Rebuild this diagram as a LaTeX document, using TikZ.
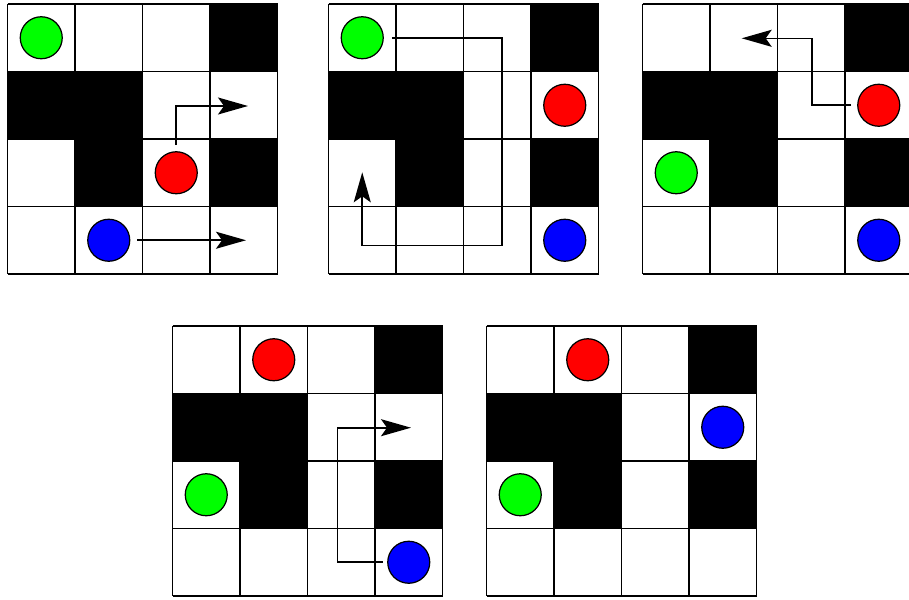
\documentclass[tikz,border=0pt]{standalone}
\usepackage{tikz}
\usetikzlibrary{arrows.meta}

\begin{document}
\begin{tikzpicture}[
    x=0.02cm, y=-0.02cm,
    cellline/.style={line width=1pt,black},
    wall/.style={fill=black},
    token/.style={circle,draw,line width=0.7pt,minimum size=8.4mm,inner sep=0pt},
    arr/.style={-{Stealth[length=6mm,width=3.4mm,inset=1.2mm]},line width=0.9pt}
  ]
    \useasboundingbox (0,0) rectangle (909,599);

    % five copies of the same 4x4 maze
    \foreach \gx/\gy in {7.5/4, 328.5/4, 642.5/4, 172.5/326, 486.5/326} {
      \begin{scope}[shift={(\gx,\gy)}]
        \foreach \c/\r in {3/0, 0/1, 1/1, 1/2, 3/2}
          \fill[wall] (\c*67.5,\r*67.5) rectangle ++(67.5,67.5);
        \foreach \i in {0,...,4} {
          \draw[cellline] (\i*67.5,0) -- (\i*67.5,270);
          \draw[cellline] (0,\i*67.5) -- (270,\i*67.5);
        }
      \end{scope}
    }

    % grid 1
    \node[token,fill=green] (g1) at (41.25,37.75) {};
    \node[token,fill=red]   (r1) at (176.25,172.75) {};
    \node[token,fill=blue]  (b1) at (108.75,240.25) {};
    \coordinate (t1a) at (248,106);
    \coordinate (t1b) at (246,240.25);
    \draw[arr,shorten <=1.2mm] (r1.north) |- (t1a);
    \draw[arr,shorten <=1.4mm] (b1.east) -- (t1b);

    % grid 2
    \node[token,fill=green] (g2) at (362.25,37.75) {};
    \node[token,fill=red]   (r2) at (564.75,105.25) {};
    \node[token,fill=blue]  (b2) at (564.75,240.25) {};
    \coordinate (k2) at (502,245.5);
    \coordinate (t2) at (362.25,172.3);
    \draw[arr,shorten <=1.6mm] (g2.east) -| (k2) -| (t2);

    % grid 3
    \node[token,fill=red]   (r3) at (878.75,105.25) {};
    \node[token,fill=green] (g3) at (676.25,172.75) {};
    \node[token,fill=blue]  (b3) at (878.75,240.25) {};
    \coordinate (k3) at (811.7,38.3);
    \coordinate (t3) at (741.7,38.3);
    \draw[arr,shorten <=1.2mm] (r3.west) -| (k3) -- (t3);

    % grid 4
    \node[token,fill=red]   (r4) at (273.75,359.75) {};
    \node[token,fill=green] (g4) at (206.25,494.75) {};
    \node[token,fill=blue]  (b4) at (408.75,562.25) {};
    \coordinate (k4) at (337.7,427.7);
    \coordinate (t4) at (411,427.7);
    \draw[arr,shorten <=0.9mm] (b4.west) -| (k4) -- (t4);

    % grid 5
    \node[token,fill=red]   (r5) at (587.75,359.75) {};
    \node[token,fill=blue]  (b5) at (722.75,427.25) {};
    \node[token,fill=green] (g5) at (520.25,494.75) {};
\end{tikzpicture}
\end{document}
